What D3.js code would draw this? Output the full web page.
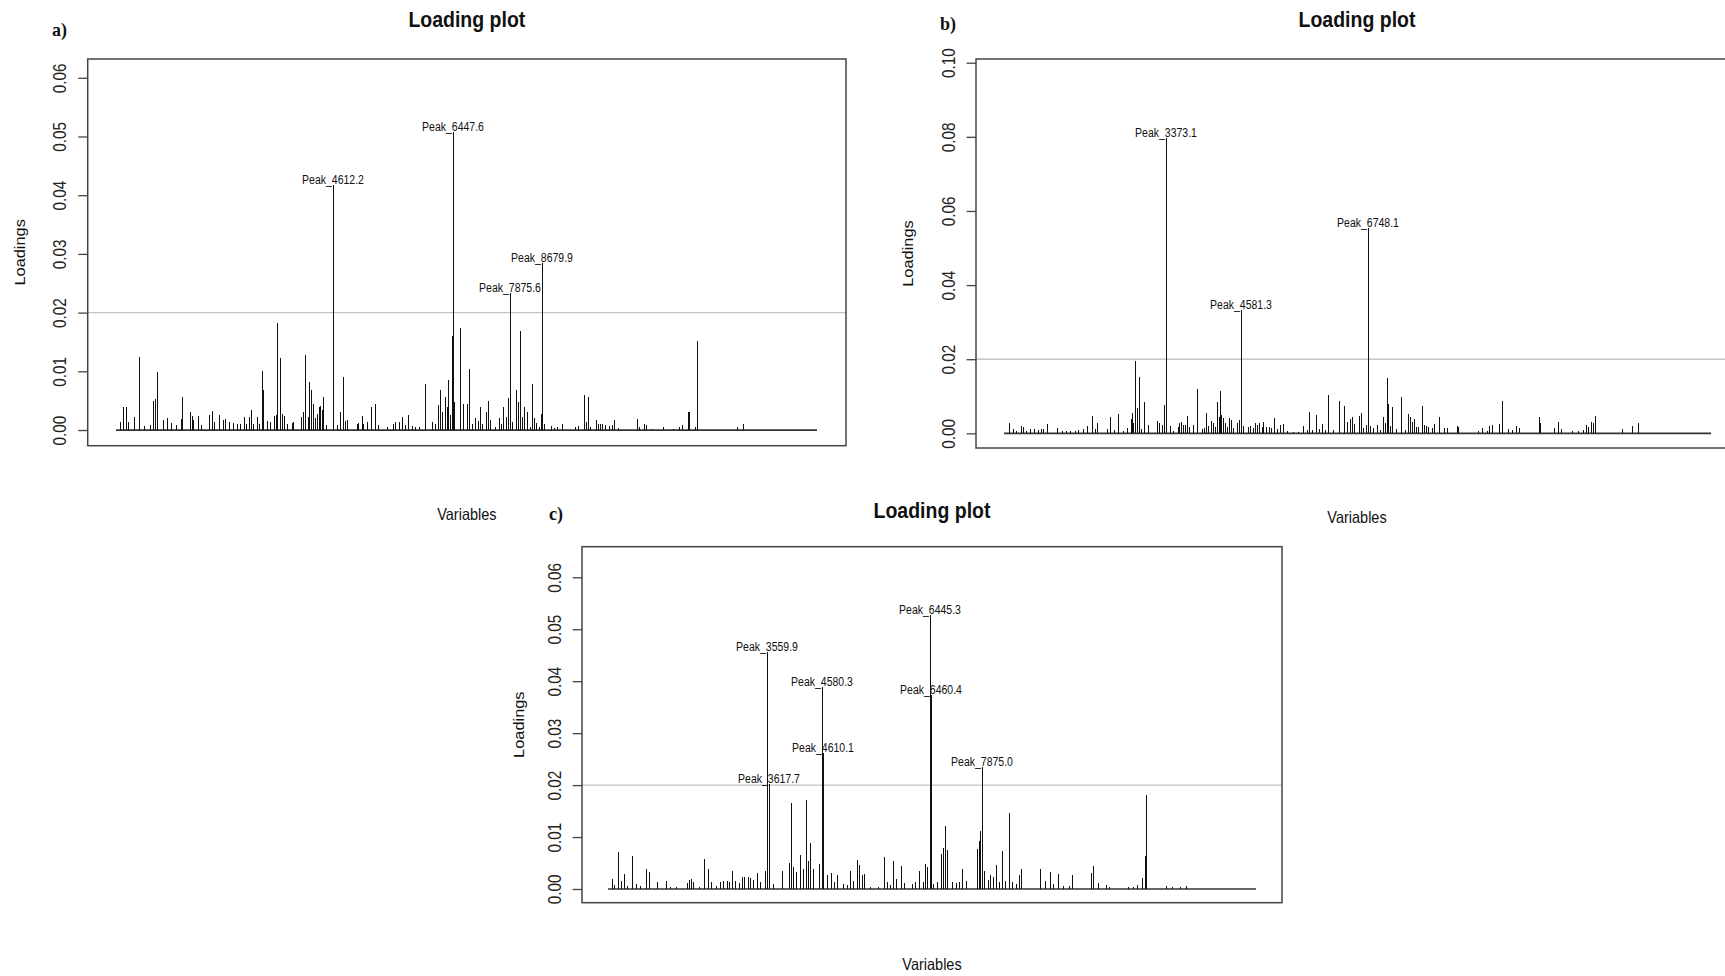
<!doctype html>
<html>
<head>
<script src="https://cdnjs.cloudflare.com/ajax/libs/d3/7.8.5/d3.min.js"></script>
<style>
  body { margin: 0; background: #fff; }
  svg { display: block; font-family: "Liberation Sans", Arial, sans-serif; }
</style>
</head>
<body>
<svg id="chart" width="1725" height="976"></svg>
<script>
// ---- data (variable index, loading) ----
var ticksA = [0, 0.01, 0.02, 0.03, 0.04, 0.05, 0.06];
var ticksB = [0, 0.02, 0.04, 0.06, 0.08, 0.10];
var ticksC = [0, 0.01, 0.02, 0.03, 0.04, 0.05, 0.06];
var cutoff = 0.02;

var nA = 702;
var varsA = [5,8,11,13,19,24,29,35,38,40,42,48,52,56,61,66,67,75,77,78,83,86,94,97,99,104,108,110,114,118,
  122,125,129,131,134,136,138,142,144,147,148,152,155,159,161,162,165,167,169,172,177,178,186,188,190,193,194,196,198,200,
  202,204,205,207,208,211,218,222,225,228,230,232,242,243,247,248,252,256,260,263,272,278,280,284,287,290,293,297,300,304,
  310,317,320,323,325,327,330,332,333,335,337,338,339,345,348,352,354,357,360,363,365,367,371,373,375,380,384,386,388,391,
  393,395,397,401,403,405,407,409,412,415,417,419,421,424,426,427,429,436,439,442,447,460,463,469,471,473,475,481,483,485,
  487,490,494,497,499,503,522,524,529,531,537,548,558,564,567,573,574,580,582,622,628];
var loadA = [0.0014,0.0040,0.0040,0.0014,0.0023,0.0125,0.0007,0.0009,0.0050,0.0052,0.0098,0.0017,0.0021,0.00125,0.00085,0.0018,0.0057,0.0031,0.0024,0.0017,
  0.0024,0.00085,0.0026,0.0033,0.0014,0.0026,0.0017,0.0019,0.0014,0.00125,0.0011,0.0010,0.0023,0.0011,0.0022,0.0034,0.0011,0.0023,0.0010,0.0101,
  0.0069,0.0016,0.0014,0.0024,0.0026,0.0182,0.0122,0.0027,0.0024,0.0011,0.00125,0.0014,0.0023,0.0031,0.0128,0.0022,0.0082,0.0068,0.0045,0.0020,
  0.0028,0.0040,0.0041,0.0034,0.0056,0.00085,0.0417,0.00085,0.0031,0.0090,0.0016,0.0017,0.0011,0.00125,0.0024,0.0011,0.0014,0.0039,0.0045,0.00085,
  0.0006,0.0010,0.0014,0.0014,0.0023,0.00085,0.0026,0.0007,0.0006,0.00045,0.0078,0.0014,0.0011,0.0043,0.0068,0.0030,0.0057,0.0040,0.0085,0.0026,
  0.0160,0.0508,0.0048,0.0173,0.0045,0.0045,0.0104,0.0011,0.0021,0.0016,0.0040,0.0011,0.0030,0.0050,0.0017,0.00045,0.0021,0.0011,0.0040,0.0023,
  0.0054,0.0233,0.0014,0.0069,0.0048,0.0169,0.0023,0.0040,0.0030,0.0006,0.0078,0.0020,0.00125,0.0006,0.0027,0.0285,0.0011,0.0007,0.0004,0.0006,
  0.0010,0.0006,0.0007,0.0060,0.0014,0.0056,0.00045,0.0017,0.0011,0.0010,0.0010,0.00085,0.0007,0.00085,0.0017,0.00035,0.0018,0.0006,0.0010,0.00085,
  0.00025,0.0006,0.00025,0.0006,0.00085,0.0031,0.0030,0.0006,0.0151,0.0006,0.0010];
var peakVarsA = [218, 338, 395, 427];
var peakNamesA = ["Peak_4612.2", "Peak_6447.6", "Peak_7875.6", "Peak_8679.9"];

var nB = 708;
var varsB = [6,10,13,18,20,23,27,31,35,38,40,44,54,59,63,67,72,75,80,84,89,92,94,104,107,111,115,120,124,128,
  129,130,132,134,136,138,141,145,154,156,159,161,163,167,170,175,176,178,180,182,184,186,190,194,199,201,203,205,208,210,
  212,214,216,217,218,220,222,224,226,228,230,234,236,238,240,245,247,250,252,254,256,259,260,263,266,268,271,274,277,280,
  284,290,295,300,304,306,309,313,316,319,322,325,330,336,341,344,347,349,351,356,358,360,363,365,367,370,374,377,380,382,
  384,385,387,389,393,398,402,405,407,409,411,413,415,419,421,423,425,429,431,436,441,444,454,455,475,479,484,486,489,496,
  499,505,509,513,516,536,537,551,555,558,569,575,580,583,585,588,590,592,619,629,635];
var loadB = [0.0027,0.0011,0.0007,0.0020,0.0016,0.0007,0.00126,0.00126,0.0009,0.00126,0.0011,0.0024,0.00135,0.0006,0.00055,0.00055,0.0007,0.0009,0.0011,0.0020,
  0.0048,0.0011,0.0029,0.0011,0.0045,0.0009,0.0053,0.0007,0.00135,0.0038,0.0056,0.0027,0.0196,0.0067,0.0153,0.0011,0.0084,0.0022,0.0034,0.0027,
  0.0022,0.0076,0.0798,0.0020,0.0007,0.0018,0.0029,0.0031,0.0022,0.0022,0.0047,0.0018,0.0022,0.0119,0.0011,0.00135,0.0054,0.0020,0.0034,0.0029,
  0.0016,0.0084,0.0045,0.0114,0.0049,0.0040,0.0027,0.0016,0.0040,0.0036,0.00135,0.0027,0.0036,0.0333,0.0020,0.0016,0.0020,0.00135,0.0027,0.0022,
  0.0029,0.0016,0.0031,0.0016,0.0016,0.00135,0.0042,0.0011,0.0022,0.0025,0.0007,0.00036,0.00045,0.0020,0.0009,0.0057,0.0009,0.0049,0.0011,0.0025,
  0.0009,0.0103,0.0009,0.0087,0.0074,0.0031,0.0038,0.0043,0.0025,0.0047,0.0056,0.00135,0.0022,0.0553,0.0020,0.00135,0.0022,0.0009,0.0045,0.0027,
  0.0150,0.0078,0.0020,0.0070,0.0011,0.0097,0.0009,0.0052,0.0045,0.0031,0.0038,0.0018,0.0016,0.0074,0.0022,0.0020,0.0016,0.00135,0.0025,0.0045,
  0.00135,0.00135,0.0020,0.0016,0.0007,0.00135,0.0007,0.0020,0.0022,0.0025,0.0087,0.0011,0.0009,0.0020,0.00135,0.0045,0.0027,0.00135,0.0031,0.0011,
  0.0007,0.0007,0.0009,0.0022,0.0016,0.0031,0.0027,0.0047,0.0011,0.0020,0.0029];
var peakVarsB = [163, 238, 365];
var peakNamesB = ["Peak_3373.1", "Peak_4581.3", "Peak_6748.1"];

var nC = 649;
var varsC = [5,7,11,14,17,20,25,29,33,39,42,50,59,63,69,80,82,84,86,92,97,101,104,109,113,116,120,122,125,128,
  132,135,137,141,143,146,150,153,158,160,162,166,175,182,184,186,189,193,196,199,201,203,206,212,215,216,220,224,227,230,
  236,240,243,246,250,252,255,257,263,271,277,280,283,286,289,294,297,305,308,312,316,318,320,323,324,326,330,334,336,338,
  340,345,349,352,355,359,370,372,373,375,377,381,383,386,389,392,395,398,402,405,409,412,414,433,438,443,446,451,456,462,
  465,484,486,491,499,502,521,526,530,535,538,539,559,565,573,579];
var loadC = [0.0019,0.0008,0.0072,0.0016,0.0029,0.0006,0.0064,0.0010,0.0006,0.0038,0.0032,0.0013,0.0016,0.00045,0.0003,0.0011,0.0017,0.0019,0.0013,0.0003,
  0.0058,0.0038,0.0013,0.0006,0.0013,0.0015,0.0016,0.0013,0.0035,0.0016,0.0011,0.0024,0.0024,0.0024,0.0022,0.0017,0.0030,0.0013,0.0035,0.0456,
  0.0203,0.0010,0.0035,0.0051,0.0165,0.0042,0.0032,0.0066,0.0038,0.0171,0.0054,0.0088,0.0038,0.0048,0.0388,0.0262,0.0026,0.0030,0.0013,0.0026,
  0.0010,0.0008,0.0034,0.0016,0.0056,0.0047,0.0026,0.0029,0.00045,0.0003,0.0062,0.0013,0.0008,0.0054,0.0019,0.0045,0.0011,0.0010,0.0013,0.0035,
  0.0013,0.0048,0.0042,0.0527,0.0373,0.0010,0.0013,0.0067,0.0079,0.0122,0.0075,0.0013,0.0011,0.0013,0.0038,0.0016,0.0077,0.0093,0.0112,0.0234,
  0.0035,0.0017,0.0026,0.0024,0.0047,0.0013,0.0074,0.0016,0.0147,0.0013,0.0010,0.0026,0.0038,0.0038,0.0016,0.0032,0.0010,0.0029,0.0006,0.0006,
  0.0026,0.0030,0.0045,0.0011,0.0008,0.00045,0.0003,0.0003,0.0008,0.0021,0.0064,0.0181,0.0006,0.0003,0.00045,0.0006];
var peakVarsC = [160, 162, 215, 216, 323, 324, 375];
var peakNamesC = ["Peak_3559.9", "Peak_3617.7", "Peak_4580.3", "Peak_4610.1", "Peak_6445.3", "Peak_6460.4", "Peak_7875.0"];

// ---- layout ----
var panels = [
  { tag: "a)", tagX: 52, tagY: 36, n: nA, vars: varsA, load: loadA, peakVars: peakVarsA, peakNames: peakNamesA,
    ticks: ticksA, box: [87.7, 59, 846, 445.7], xr: [116, 817], yd: [-0.00267, 0.0632],
    titleY: 27.3, ylabX: 62.5, xlabY: 519.5 },
  { tag: "b)", tagX: 940, tagY: 29.5, n: nB, vars: varsB, load: loadB, peakVars: peakVarsB, peakNames: peakNamesB,
    ticks: ticksB, box: [976, 59, 1738, 448], xr: [1004, 1711], yd: [-0.00396, 0.1010],
    titleY: 27, ylabX: 63.5, xlabY: 523 },
  { tag: "c)", tagX: 549, tagY: 520, n: nC, vars: varsC, load: loadC, peakVars: peakVarsC, peakNames: peakNamesC,
    ticks: ticksC, box: [582, 546.7, 1282, 902.7], xr: [608, 1256], yd: [-0.002637, 0.06589],
    titleY: 518.3, ylabX: 58, xlabY: 970 }
];

var svg = d3.select("#chart");

function label(g, x, y, str, size, sy, weight, family) {
  return g.append("text")
    .attr("transform", "translate(" + x + "," + y + ") scale(1," + sy + ")")
    .attr("text-anchor", "middle")
    .style("font-size", size + "px")
    .style("font-weight", weight || "normal")
    .style("font-family", family || null)
    .attr("fill", "#111")
    .text(str);
}

panels.forEach(function(p) {
  var g = svg.append("g");
  var L = p.box[0], T = p.box[1], R = p.box[2], B = p.box[3];
  var x = d3.scaleLinear().domain([1, p.n]).range(p.xr);
  var y = d3.scaleLinear().domain(p.yd).range([B, T]);

  // cutoff line
  g.append("line")
    .attr("x1", L).attr("x2", R)
    .attr("y1", y(cutoff)).attr("y2", y(cutoff))
    .attr("stroke", "#c4c4c4").attr("stroke-width", 1.4);

  // baseline of the loadings
  g.append("line")
    .attr("x1", x(1)).attr("x2", x(p.n))
    .attr("y1", y(0)).attr("y2", y(0))
    .attr("stroke", "#333").attr("stroke-width", 1.7);

  // loading spikes (type = "h")
  g.selectAll("line.spike")
    .data(p.vars.map(function(v, i) { return [v, p.load[i]]; }))
    .enter().append("line")
      .attr("class", "spike")
      .attr("x1", function(d) { return x(d[0]); })
      .attr("x2", function(d) { return x(d[0]); })
      .attr("y1", y(0))
      .attr("y2", function(d) { return y(d[1]); })
      .attr("stroke", "#111")
      .attr("stroke-width", 1)
      .attr("shape-rendering", "crispEdges");

  // peak labels
  p.peakVars.forEach(function(v, i) {
    var val = p.load[p.vars.indexOf(v)];
    label(g, x(v), y(val) - 1, p.peakNames[i], 10.5, 1.15);
  });

  // box
  g.append("rect")
    .attr("x", L).attr("y", T)
    .attr("width", R - L).attr("height", B - T)
    .attr("fill", "none").attr("stroke", "#444").attr("stroke-width", 1.5);

  // y axis
  var ax = g.append("g")
    .attr("transform", "translate(" + L + ",0)")
    .call(d3.axisLeft(y).tickValues(p.ticks).tickSize(9.4).tickFormat(d3.format(".2f")));
  ax.select(".domain").remove();
  ax.selectAll(".tick line").attr("stroke", "#444").attr("stroke-width", 1.3);
  ax.selectAll(".tick text")
    .attr("x", null).attr("dy", null)
    .attr("text-anchor", "middle")
    .attr("transform", "translate(-21.5,0) rotate(-90) scale(0.85,1)")
    .attr("fill", "#222")
    .style("font-size", "18px")
    .style("font-family", "'Liberation Sans', Arial, sans-serif");

  // titles and axis labels
  label(g, (L + R) / 2, p.titleY, "Loading plot", 19.5, 1.1, "bold");
  label(g, (L + R) / 2, p.xlabY, "Variables", 14.5, 1.15);
  g.append("text")
    .attr("transform", "translate(" + (L - p.ylabX) + "," + ((T + B) / 2) + ") rotate(-90) scale(1.13,1)")
    .attr("text-anchor", "middle")
    .style("font-size", "14.5px")
    .attr("fill", "#111")
    .text("Loadings");
  label(g, p.tagX, p.tagY, p.tag, 18, 1.1, "bold", "'Liberation Serif', 'Times New Roman', serif")
    .attr("text-anchor", "start");
});
</script>
</body>
</html>
